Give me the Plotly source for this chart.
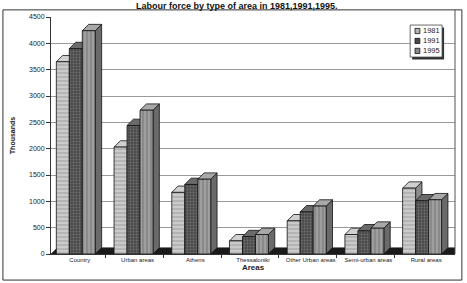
import plotly.graph_objects as go

areas = ["Country", "Urban areas", "Athens", "Thessaloniki", "Other Urban areas", "Semi-urban areas", "Rural areas"]
years = ["1981", "1991", "1995"]
v1981 = [3650, 2030, 1170, 250, 630, 370, 1250]
v1991 = [3900, 2440, 1320, 330, 800, 440, 1010]
v1995 = [4240, 2730, 1420, 370, 910, 490, 1030]
y_ticks = [0, 500, 1000, 1500, 2000, 2500, 3000, 3500, 4000, 4500]

series = [v1981, v1991, v1995]
styles = [
    dict(color="#b4b4b4", pat="-", fg="#f2f2f2", size=4, sol=0.35, top="#d0d0d0", side="#8c8c8c"),
    dict(color="#4a4a4a", pat=".", fg="#9a9a9a", size=3, sol=0.3, top="#6a6a6a", side="#353535"),
    dict(color="#8a8a8a", pat="|", fg="#cfcfcf", size=4, sol=0.3, top="#a8a8a8", side="#6a6a6a"),
]

W = 0.225          # bar width in category units
SHIFT = -0.07      # group shift to leave room for depth
DX = 0.11          # depth in category units
DY = 120           # depth in value units

fig = go.Figure()
shapes = []
n = len(areas)
# floor
shapes.append(dict(type="path", xref="x", yref="y", layer="between",
                   path=f"M -0.5 0 L {n-0.5} 0 L {n-0.5+DX} {DY} L {-0.5+DX} {DY} Z",
                   fillcolor="#1a1a1a", line=dict(color="#1a1a1a", width=0.5)))

for i, (name, vals) in enumerate(zip(years, series)):
    s = styles[i]
    off = -1.5 * W + SHIFT + i * W
    fig.add_trace(go.Bar(
        x=list(range(n)), y=vals, name=name, width=W, offset=off, showlegend=False,
        marker=dict(color=s["color"], line=dict(color="#111111", width=0.8),
                    pattern=dict(shape=s["pat"], fgcolor=s["fg"], size=s["size"], solidity=s["sol"])),
    ))

# 3D faces (drawn between grid and traces, left to right)
for i in range(len(years)):
    s = styles[i]
    off = -1.5 * W + SHIFT + i * W
    for k, v in enumerate(series[i]):
        x0 = k + off
        x1 = x0 + W
        shapes.append(dict(type="path", xref="x", yref="y", layer="between",
                           path=f"M {x1} 0 L {x1+DX} {DY} L {x1+DX} {v+DY} L {x1} {v} Z",
                           fillcolor=s["side"], line=dict(color="#111111", width=0.8)))
        shapes.append(dict(type="path", xref="x", yref="y", layer="between",
                           path=f"M {x0} {v} L {x1} {v} L {x1+DX} {v+DY} L {x0+DX} {v+DY} Z",
                           fillcolor=s["top"], line=dict(color="#111111", width=0.8)))

# outer chart border and plot-area right edge
shapes.append(dict(type="rect", xref="paper", yref="paper", x0=-0.119, x1=1.017, y0=-0.11, y1=1.03,
                   line=dict(color="#333333", width=1), fillcolor="rgba(0,0,0,0)", layer="below"))
shapes.append(dict(type="line", xref="paper", yref="paper", x0=1.0, x1=1.0, y0=0, y1=1.03,
                   line=dict(color="#555555", width=1)))

# manual legend box with shadow
lx0, lx1, ly0, ly1 = 0.889, 0.968, 0.831, 0.966
shapes.append(dict(type="rect", xref="paper", yref="paper", x0=lx0 + 0.005, x1=lx1 + 0.005,
                   y0=ly0 - 0.01, y1=ly1 - 0.01, fillcolor="#333333", line=dict(width=0)))
shapes.append(dict(type="rect", xref="paper", yref="paper", x0=lx0, x1=lx1, y0=ly0, y1=ly1,
                   fillcolor="white", line=dict(color="#444444", width=0.8)))
annotations = []
for i, name in enumerate(years):
    yc = 0.941 - i * 0.042
    shapes.append(dict(type="rect", xref="paper", yref="paper", x0=0.901, x1=0.913,
                       y0=yc - 0.011, y1=yc + 0.011, fillcolor=styles[i]["color"],
                       line=dict(color="#111111", width=0.8)))
    annotations.append(dict(xref="paper", yref="paper", x=0.917, y=yc, text=name, showarrow=False,
                            xanchor="left", yanchor="middle", font=dict(size=7.5, color="#222222")))

fig.update_layout(
    width=467, height=283,
    margin=dict(l=51, r=12, t=17, b=29),
    paper_bgcolor="white", plot_bgcolor="white",
    font=dict(family="Liberation Sans, Arial, sans-serif", color="#222222", size=7),
    title=dict(text="<b>Labour force by type of area in 1981,1991,1995.</b>",
               x=0.507, xanchor="center", y=0.99, yanchor="top",
               font=dict(size=9, color="#111111")),
    showlegend=False,
    shapes=shapes, annotations=annotations,
)
fig.update_xaxes(
    title=dict(text="<b>Areas</b>", font=dict(size=8), standoff=2),
    tickmode="array", tickvals=list(range(n)), ticktext=areas,
    range=[-0.5, n - 0.5],
    tickfont=dict(size=6), showline=True, linecolor="#333333",
    ticks="", showgrid=False,
    minor=dict(tickvals=[k + 0.45 for k in range(n - 1)], ticks="outside", ticklen=3,
               tickcolor="#333333", showgrid=False),
)
fig.update_yaxes(
    title=dict(text="<b>Thousands</b>", font=dict(size=7), standoff=12),
    range=[0, 4500], tickvals=y_ticks, tickfont=dict(size=7),
    showline=True, linecolor="#333333", ticks="outside", ticklen=4,
    tickcolor="#333333", showgrid=True, gridcolor="#9a9a9a", gridwidth=1,
    zeroline=False,
)

fig.write_html("out.html")
